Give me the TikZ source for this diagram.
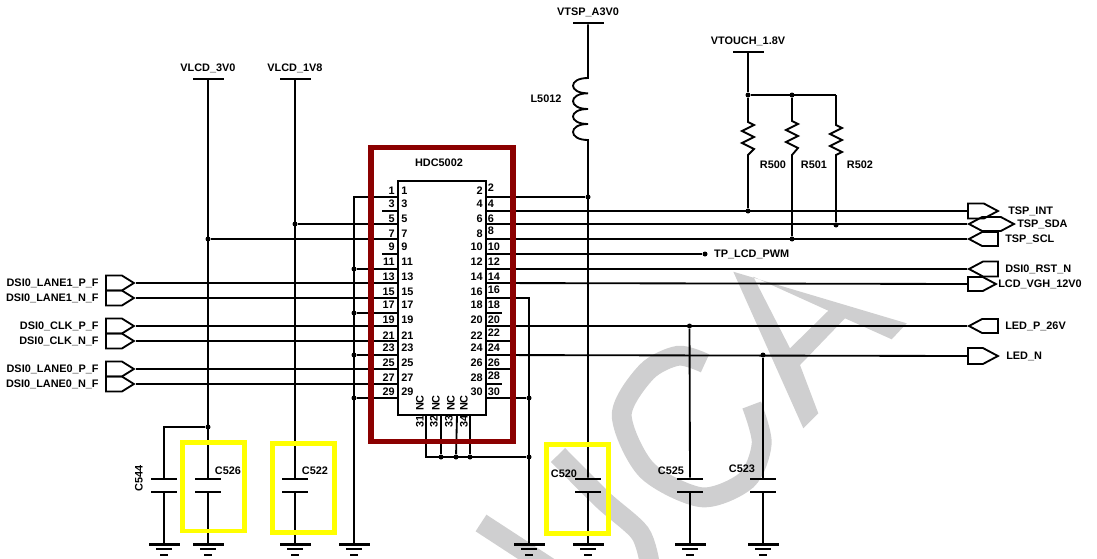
\documentclass[tikz,border=0pt]{standalone}
\usepackage{fontspec}
\setmainfont{Liberation Sans}
\usepackage{tikz}
\usetikzlibrary{positioning, shapes.symbols}

\definecolor{markgray}{HTML}{CFCFD0}
\definecolor{framered}{HTML}{8B0000}
\definecolor{markyellow}{HTML}{FFFF00}

\begin{document}
\begin{tikzpicture}[
    x=0.02cm, y=-0.02cm,
    wire/.style     = {draw, line width=1.05pt},
    lbl/.style      = {font=\fontsize{6.2}{7}\selectfont\bfseries, inner sep=0pt, text height=4pt, text depth=0pt},
    icbox/.style    = {draw, line width=1.05pt, fill=white, inner sep=0pt, minimum width=1.76cm, minimum height=4.68cm},
    highlight/.style= {draw=markyellow, line width=2.6pt, inner sep=0pt, minimum width=1.24cm, minimum height=1.77cm},
    railbar/.style  = {fill=black, inner sep=0pt, minimum width=0.62cm, minimum height=1.2pt},
    plate/.style    = {fill=black, inner sep=0pt, minimum width=0.52cm, minimum height=1.2pt},
    gmid/.style     = {fill=black, inner sep=0pt, minimum width=0.32cm, minimum height=1.3pt},
    gsmall/.style   = {fill=black, inner sep=0pt, minimum width=0.16cm, minimum height=1.3pt},
    dot/.style      = {circle, fill=black, inner sep=0pt, minimum size=0.1cm},
    conn/.style     = {draw, signal, anchor=west, line width=1.05pt, inner sep=0pt, minimum width=0.56cm, minimum height=0.3cm, signal pointer angle=64},
    port/.style     = {conn, minimum width=0.6cm, signal pointer angle=56},
    res/.style      = {to path={-- ++(6,3) -- ++(-12,6) -- ++(12,6) -- ++(-12,6) -- ++(12,6) -- (\tikztotarget)}},
  ]
  \useasboundingbox (0,0) rectangle (1097,558);

  % watermark
  \begin{scope}
    \clip (0,0) rectangle (1097,558);
    \fill[markgray, even odd rule] (733.3,271.7) -- (906.7,323.3) -- (891.7,339.3) -- (845,318.3) -- (800,365)
      -- (818.3,413.3) -- (803.3,428.3) -- cycle
      (753.3,276.7) -- (828.3,310.7) -- (790,348.3) -- cycle;
    \draw[markgray, line width=11.3pt] plot[smooth] coordinates {(705,363.3) (678.3,355.7) (646.7,371.7)
      (621.7,415) (646.7,470) (701.7,497.3) (746.7,480) (761.7,443.3) (751.7,405)};
    \draw[markgray, line width=11.3pt] plot[smooth] coordinates {(558,455) (603,500) (640,533) (650,565)};
    \draw[markgray, line width=11.3pt] (481,523) -- (550,568);
  \end{scope}

  % connector pins on the left side
  \foreach \n/\y/\a in {1/197/191, 3/211/204, 5/224/219, 7/239/234, 9/254/247, 11/269/262, 13/283/277, 15/298/292,
      17/313/305, 19/326/320, 21/341/336, 23/355/348, 25/369/363, 27/384/378, 29/398/392} {
    \coordinate (pin\n) at (398,\y);
    \node[lbl, anchor=east] (po\n) at (395,\a) {\n};
  }
  % and on the right side
  \foreach \n/\y/\a/\b in {2/197/191/188, 4/211/204/204, 6/224/219/219, 8/239/234/231, 10/254/247/247, 12/269/262/262,
      14/283/277/277, 16/298/292/290, 18/313/305/305, 20/326/320/320, 22/341/336/333, 24/355/348/348,
      26/369/363/363, 28/384/378/376, 30/398/392/392} {
    \coordinate (pin\n) at (486,\y);
    \node[lbl, anchor=west] (po\n) at (487.5,\b) {\n};
  }
  % grounds
  \foreach \g/\x in {gndc/164, gndd/208, gnde/295, gndf/354, gndg/529, gndh/588, gndi/690, gndj/763} {
    \node[railbar] (\g) at (\x,544.5) {};
    \node[gmid] (\g m) at (\x,549) {};
    \node[gsmall] (\g s) at (\x,555) {};
  }
  % capacitors
  \foreach \c/\x in {c544/164, c526/208, c522/295, c520/588, c525/690, c523/763} {
    \node[plate] (\c a) at (\x,479) {};
    \node[plate] (\c b) at (\x,492) {};
  }

  % supply rails
  \node[railbar] (vlcdthree) at (208,79) {};
  \node[railbar] (vlcdone) at (295,79) {};
  \node[railbar] (vtsp) at (588,23) {};
  \node[railbar] (vtouch) at (748,52) {};
  \node[lbl, above=0.12cm of vlcdthree] (vlcdthreel) {VLCD\_3V0};
  \node[lbl, above=0.12cm of vlcdone] (vlcdonel) {VLCD\_1V8};
  \node[lbl, above=0.12cm of vtsp] (vtspl) {VTSP\_A3V0};
  \node[lbl, above=0.12cm of vtouch] (vtouchl) {VTOUCH\_1.8V};

  % junctions
  \node[dot] (j3v) at (208,239) {};
  \node[dot] (jc544) at (208,427) {};
  \node[dot] (j1v) at (295,224) {};
  \node[dot] (jgl1) at (354,269) {};
  \node[dot] (jgl2) at (354,313) {};
  \node[dot] (jgl3) at (354,355) {};
  \node[dot] (jgl4) at (354,398) {};
  \node[dot] (jgr1) at (529,398) {};
  \node[dot] (jgr2) at (529,457) {};
  \node[dot] (jn2) at (441,457) {};
  \node[dot] (jn3) at (456,457) {};
  \node[dot] (jn4) at (470,457) {};
  \node[dot] (jl) at (588,197) {};
  \node[dot] (jt1) at (748,95) {};
  \node[dot] (jt2) at (792,95) {};
  \node[dot] (jr0) at (748,211) {};
  \node[dot] (jr2) at (836,225) {};
  \node[dot] (jr1) at (792,239) {};
  \node[dot] (jc525) at (689.5,326) {};
  \node[dot] (jc523) at (763,355) {};
  \node[dot] (pwm) at (705,254) {};
  \node[lbl, right=0.12cm of pwm] (pwml) {TP\_LCD\_PWM};

  % left connectors
  \node[conn] (lane1p) at (105,283) {};
  \node[conn] (lane1n) at (105,298) {};
  \node[conn] (clkp) at (105,326) {};
  \node[conn] (clkn) at (105,341) {};
  \node[conn] (lane0p) at (105,369) {};
  \node[conn] (lane0n) at (105,384) {};
  \node[lbl, left=0.12cm of lane1p] (lane1pl) {DSI0\_LANE1\_P\_F};
  \node[lbl, left=0.12cm of lane1n] (lane1nl) {DSI0\_LANE1\_N\_F};
  \node[lbl, left=0.12cm of clkp] (clkpl) {DSI0\_CLK\_P\_F};
  \node[lbl, left=0.12cm of clkn] (clknl) {DSI0\_CLK\_N\_F};
  \node[lbl, left=0.12cm of lane0p] (lane0pl) {DSI0\_LANE0\_P\_F};
  \node[lbl, left=0.12cm of lane0n] (lane0nl) {DSI0\_LANE0\_N\_F};

  % right connectors
  \node[port] (tspint) at (967,211) {};
  \node[port, signal to=east and west, minimum width=0.9cm, minimum height=0.28cm] (tspsda) at (967,224) {};
  \node[port, signal to=west, minimum width=0.58cm, minimum height=0.28cm] (tspscl) at (967,239) {};
  \node[port, signal to=west, minimum width=0.58cm] (rst) at (967,269) {};
  \node[port, minimum width=0.56cm, minimum height=0.28cm] (vgh) at (967,284) {};
  \node[port, signal to=west, minimum width=0.58cm, minimum height=0.28cm] (ledp) at (967,326) {};
  \node[port, minimum height=0.32cm] (ledn) at (967,356) {};
  \node[lbl, right=0.16cm of tspint] (tspintl) {TSP\_INT};
  \node[lbl, right=0.02cm of tspsda] (tspsdal) {TSP\_SDA};
  \node[lbl, right=0.12cm of tspscl] (tspscll) {TSP\_SCL};
  \node[lbl, right=0.12cm of rst] (rstl) {DSI0\_RST\_N};
  \node[lbl, right=0cm of vgh] (vghl) {LCD\_VGH\_12V0};
  \node[lbl, right=0.12cm of ledp] (ledpl) {LED\_P\_26V};
  \node[lbl, right=0.12cm of ledn] (lednl) {LED\_N};

  % inductor and resistors
  \coordinate (la) at (588,78);
  \coordinate (lb) at (588,93.3);
  \coordinate (lc) at (588,109);
  \coordinate (ld) at (588,124);
  \coordinate (le) at (588,140);
  \node[lbl] (l5012) at (546,99) {L5012};
  \coordinate (r500t) at (748,122);
  \coordinate (r500b) at (748,155);
  \coordinate (r501t) at (792,121);
  \coordinate (r501b) at (792,155);
  \coordinate (r502c) at (836,95);
  \coordinate (r502t) at (836,125);
  \coordinate (r502b) at (836,155);
  \node[lbl] (r500) at (773,165) {R500};
  \node[lbl] (r501) at (814,165) {R501};
  \node[lbl] (r502) at (860,165) {R502};

  % capacitor labels
  \node[lbl] (c526l) at (228,471) {C526};
  \node[lbl] (c522l) at (315,471) {C522};
  \node[lbl, rotate=90] (c544l) at (139,478) {C544};
  \node[lbl] (c520l) at (564,474) {C520};
  \node[lbl] (c525l) at (671,471) {C525};
  \node[lbl] (c523l) at (742,469) {C523};

  % wires
  \draw[wire] (vlcdthree) -- (c526a);
  \draw[wire] (c526b) -- (gndd);
  \draw[wire] (jc544) -| (c544a);
  \draw[wire] (c544b) -- (gndc);
  \draw[wire] (vlcdone) -- (c522a);
  \draw[wire] (c522b) -- (gnde);
  \draw[wire] (pin1) -| (gndf);
  \draw[wire] (pin5) -- (j1v);
  \draw[wire] (pin7) -- (j3v);
  \draw[wire] (pin11) -- (jgl1);
  \draw[wire] (pin17) -- (jgl2);
  \draw[wire] (pin23) -- (jgl3);
  \draw[wire] (pin29) -- (jgl4);
  \draw[wire] (lane1p.east) -- (pin13);
  \draw[wire] (lane1n.east) -- (pin15);
  \draw[wire] (clkp.east) -- (pin19);
  \draw[wire] (clkn.east) -- (pin21);
  \draw[wire] (lane0p.east) -- (pin25);
  \draw[wire] (lane0n.east) -- (pin27);
  \draw[wire] (pin3) -- ++(-16,0);
  \draw[wire] (pin9) -- ++(-16,0);

  \draw[wire] (pin2) -- (jl);
  \draw[wire] (pin4) -- (tspint.west);
  \draw[wire] (pin6) -- (tspsda.west);
  \draw[wire] (pin8) -- (tspscl.west);
  \draw[wire] (pin10) -- (pwm);
  \draw[wire] (pin12) -- (rst.west);
  \draw[wire] (pin14) -- (vgh.west);
  \draw[wire] (pin16) -| (gndg);
  \draw[wire] (pin20) -- (ledp.west);
  \draw[wire] (pin24) -- (ledn.west);
  \draw[wire] (pin30) -- (jgr1);
  \draw[wire] (pin18) -- ++(16,0);
  \draw[wire] (pin22) -- ++(25,0);
  \draw[wire] (pin26) -- ++(25,0);
  \draw[wire] (pin28) -- ++(16,0);

  \draw[wire] (vtsp) -- (la) .. controls +(-20,0) and +(-20,0) .. (lb)
    .. controls +(-20,0) and +(-20,0) .. (lc)
    .. controls +(-20,0) and +(-20,0) .. (ld)
    .. controls +(-20,0) and +(-20,0) .. (le) -- (c520a);
  \draw[wire] (c520b) -- (gndh);
  \draw[wire] (jc525) -- (c525a);
  \draw[wire] (c525b) -- (gndi);
  \draw[wire] (jc523) -- (c523a);
  \draw[wire] (c523b) -- (gndj);

  \draw[wire] (vtouch) -- (jt1);
  \draw[wire] (jt1) -- (r502c);
  \draw[wire] (jt1) -- (r500t) to[res] (r500b) -- (jr0);
  \draw[wire] (jt2) -- (r501t) to[res] (r501b) -- (jr1);
  \draw[wire] (r502c) -- (r502t) to[res] (r502b) -- (jr2);

  % part outline and the NC pins
  \node[icbox] (hdc) at (442,298) {};
  \foreach \n/\y/\a in {1/197/191, 3/211/204, 5/224/219, 7/239/234, 9/254/247, 11/269/262, 13/283/277, 15/298/292,
      17/313/305, 19/326/320, 21/341/336, 23/355/348, 25/369/363, 27/384/378, 29/398/392} {
    \node[lbl, anchor=west] (pi\n) at (401,\a) {\n};
  }
  \foreach \n/\y/\a in {2/197/191, 4/211/204, 6/224/219, 8/239/234, 10/254/247, 12/269/262, 14/283/277, 16/298/292,
      18/313/305, 20/326/320, 22/341/336, 24/355/348, 26/369/363, 28/384/378, 30/398/392} {
    \node[lbl, anchor=east] (pi\n) at (483,\a) {\n};
  }
  \foreach \n/\x/\w/\t in {31/426/420/420, 32/441/436/434, 33/457/451/449, 34/470/464/464} {
    \coordinate (pin\n) at (\x,415);
    \node[lbl, rotate=90] (nc\n) at (\w,403) {NC};
    \node[lbl, rotate=90] (po\n) at (\t,421) {\n};
  }
  \draw[wire] (pin31) |- (jgr2);
  \draw[wire] (pin32) -- (jn2);
  \draw[wire] (pin33) -- (jn3);
  \draw[wire] (pin34) -- (jn4);
  \draw[wire] (jgr2) -- (jgr1);
  \node[lbl] (hdcl) at (439,163) {HDC5002};

  % frames drawn over the wires
  \node[draw=framered, line width=2.9pt, inner sep=0pt, minimum width=2.84cm, minimum height=5.88cm] (hdcframe) at (442,294.5) {};
  \node[highlight] (boxc526) at (213.5,486.7) {};
  \node[highlight] (boxc522) at (303.5,488) {};
  \node[highlight] (boxc520) at (577.5,489) {};
\end{tikzpicture}
\end{document}
